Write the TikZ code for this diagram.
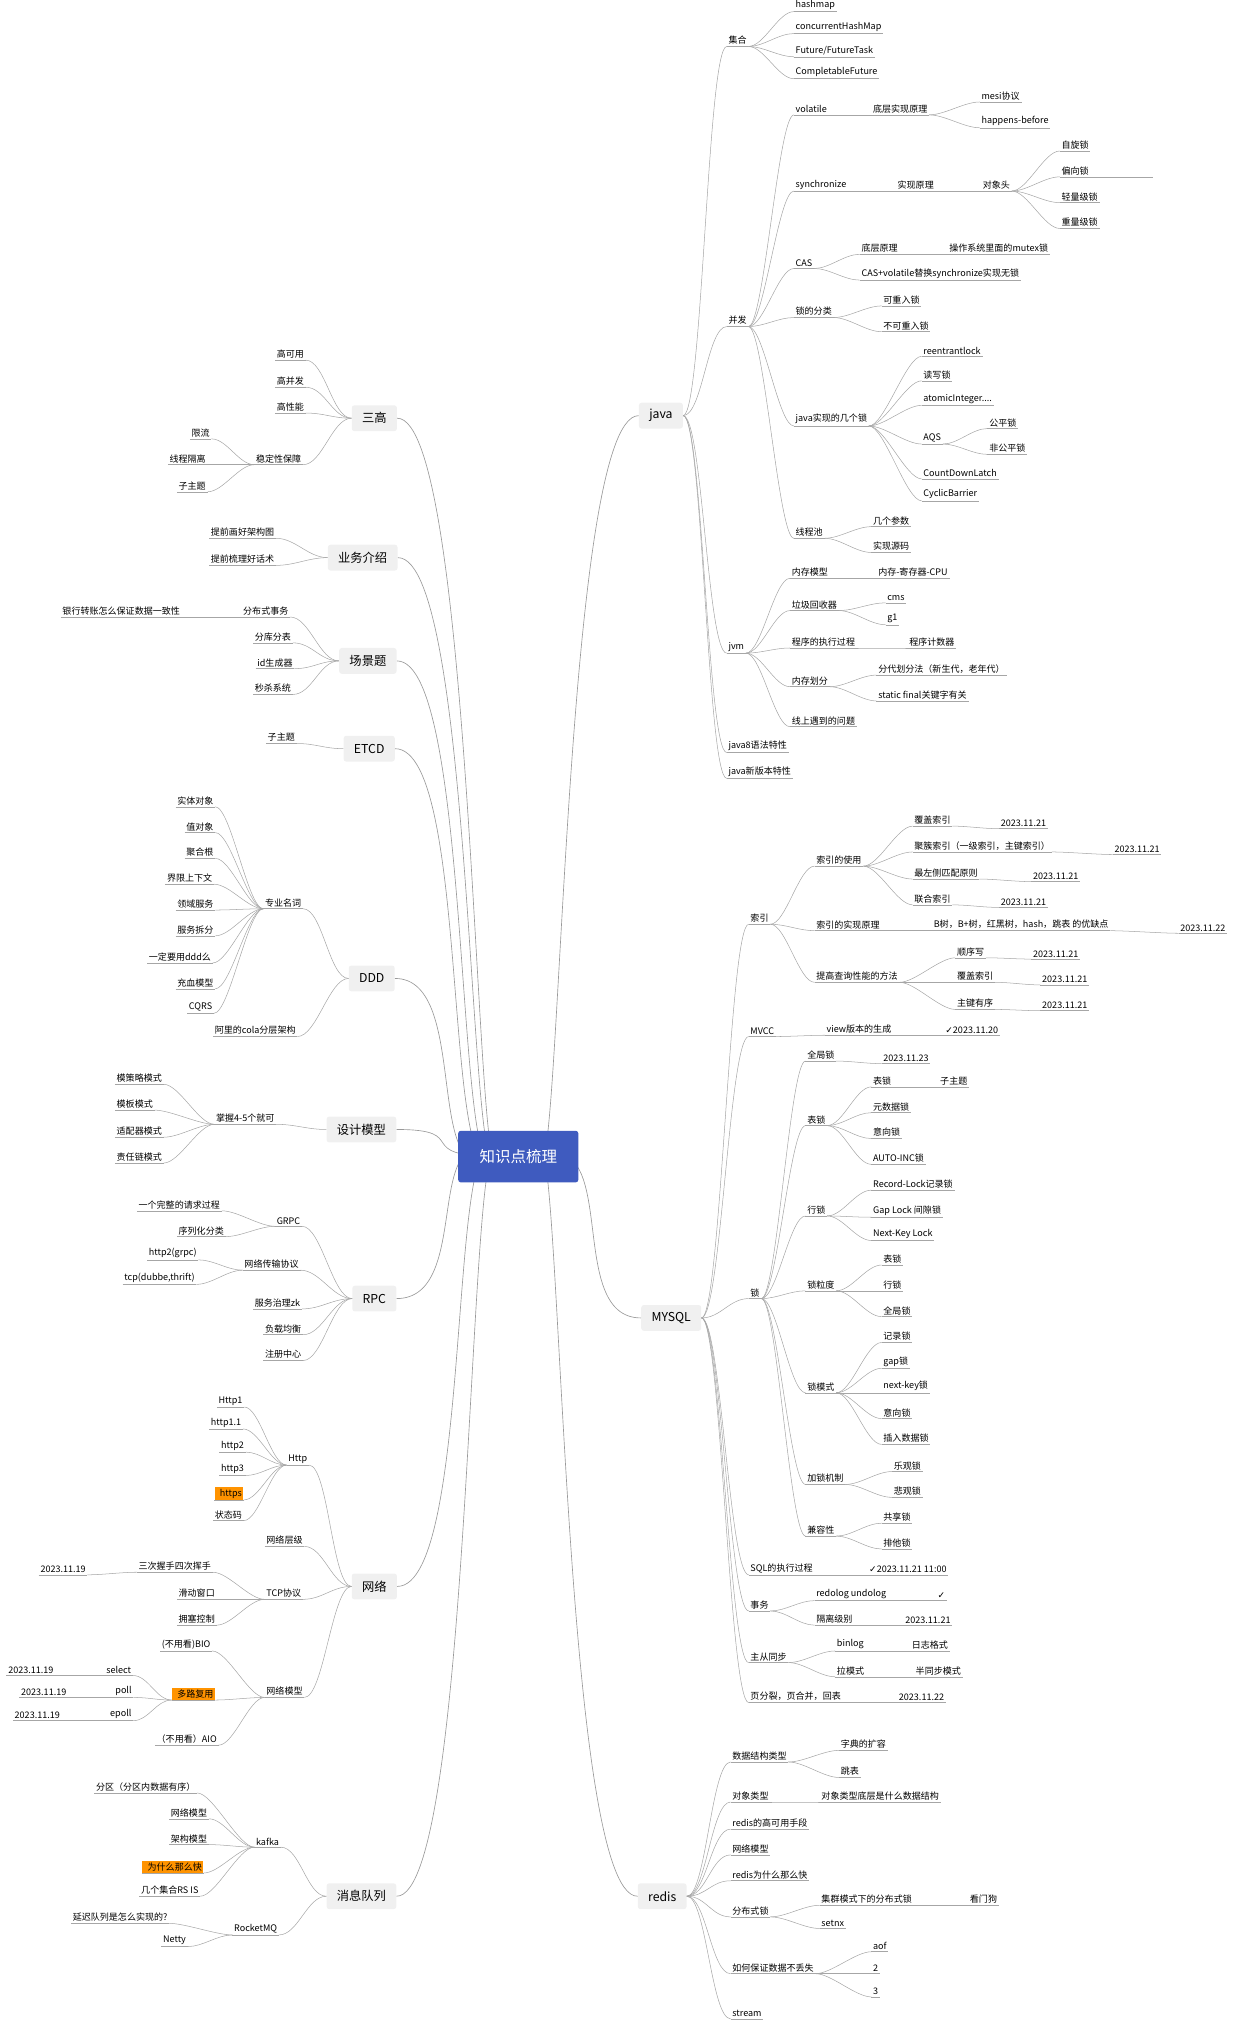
\documentclass[tikz,border=0pt]{standalone}
\usepackage{fontspec}
\setmainfont{Noto Sans CJK SC}
\newfontfamily\dv{DejaVu Sans}
\definecolor{cblue}{HTML}{3F5BBF}
\begin{document}
\begin{tikzpicture}[x=1pt,y=-1pt,
 lf/.style={anchor=south west,inner sep=1.2pt,font=\fontsize{7}{7.5}\selectfont},
 ul/.style={draw=gray!70,line width=0.4pt},
 cn/.style={draw=gray!70,line width=0.4pt},
 mn/.style={draw=gray!80,line width=0.5pt},
 bx/.style={rounded corners=2pt,fill=gray!12,draw=none,font=\fontsize{9.5}{10}\selectfont,minimum height=20pt,inner xsep=8pt},
 hl/.style={fill=orange!85!yellow}]
\useasboundingbox (0,0) rectangle (960,1568);
\newcommand\lf[5][]{\node[lf,#1] (#2) at (#3,#4) {#5}; \draw[ul] (#2.south west) -- (#2.south east);}
\newcommand\R[2]{\draw[cn] (#1.south east) .. controls +(12,0) and +(-12,0) .. (#2.south west);}
\newcommand\Lc[2]{\draw[cn] (#1.south west) .. controls +(-12,0) and +(12,0) .. (#2.south east);}
\newcommand\BR[2]{\draw[cn] (#1.east) .. controls +(15,0) and +(-15,0) .. (#2.south west);}
\newcommand\BL[2]{\draw[cn] (#1.west) .. controls +(-15,0) and +(15,0) .. (#2.south east);}
% center anchor
\coordinate (cc) at (401.5,896);
% main boxes
\node[bx] (java) at (512,322) {java};
\node[bx] (mysql) at (520,1021) {MYSQL};
\node[bx] (redis) at (513,1469) {redis};
\node[bx] (sg) at (290,324) {三高};
\node[bx] (yw) at (281,432) {业务介绍};
\node[bx] (cj) at (285,512) {场景题};
\node[bx] (etcd) at (286,580) {ETCD};
\node[bx] (ddd) at (288,758) {DDD};
\node[bx] (sj) at (280,875) {设计模型};
\node[bx] (rpc) at (290,1006) {RPC};
\node[bx] (wl) at (290,1229) {网络};
\node[bx] (mq) at (280,1469) {消息队列};
\foreach \n/\o in {java/75,mysql/-20,redis/-75}{\draw[mn] (cc) ++(15,0) .. controls +(\o:70) and +(-60,0) .. (\n.west);}
\foreach \n/\o in {sg/105,yw/110,cj/120,etcd/130,ddd/150,sj/180,rpc/210,wl/235,mq/250}{\draw[mn] (cc) ++(-15,0) .. controls +(\o:70) and +(60,0) .. (\n.east);}
\node[rounded corners=2pt,fill=cblue,text=white,font=\fontsize{12}{13}\selectfont,minimum width=93pt,minimum height=40pt] (c) at (cc) {知识点梳理};
% java
\lf{jh}{563}{36}{集合}\BR{java}{jh}
\lf{j1}{615}{9}{hashmap}\R{jh}{j1}
\lf{j2}{615}{26}{concurrentHashMap}\R{jh}{j2}
\lf{j3}{615}{44}{Future/FutureTask}\R{jh}{j3}
\lf{j4}{615}{61}{CompletableFuture}\R{jh}{j4}
\lf{bf}{563}{253}{并发}\BR{java}{bf}
\lf{vo}{615}{89}{volatile}\R{bf}{vo}
\lf{vo1}{675}{89}{底层实现原理}\R{vo}{vo1}
\lf{vo2}{759}{79}{mesi协议}\R{vo1}{vo2}
\lf{vo3}{759}{99}{happens-before}\R{vo1}{vo3}
\lf{sy}{615}{148}{synchronize}\R{bf}{sy}
\lf{sy1}{694}{148}{实现原理}\R{sy}{sy1}
\lf{sy2}{760}{148}{对象头}\R{sy1}{sy2}
\lf{sy3}{821}{117}{自旋锁}\R{sy2}{sy3}
\lf{sy4}{821}{137}{偏向锁}\R{sy2}{sy4}
\coordinate (sy4e) at (893,137);\draw[ul] (sy4.south east) -- (sy4e);
\lf{sy5}{821}{157}{轻量级锁}\R{sy2}{sy5}
\lf{sy6}{821}{177}{重量级锁}\R{sy2}{sy6}
\lf{cas}{615}{208}{CAS}\R{bf}{cas}
\lf{cas1}{666}{197}{底层原理}\R{cas}{cas1}
\lf{cas2}{734}{197}{操作系统里面的mutex锁}\R{cas1}{cas2}
\lf{cas3}{666}{217}{CAS+volatile替换synchronize实现无锁}\R{cas}{cas3}
\lf{sf}{615}{246}{锁的分类}\R{bf}{sf}
\lf{sf1}{683}{237}{可重入锁}\R{sf}{sf1}
\lf{sf2}{683}{257}{不可重入锁}\R{sf}{sf2}
\lf{js}{615}{330}{java实现的几个锁}\R{bf}{js}
\lf{js1}{714}{276}{reentrantlock}\R{js}{js1}
\lf{js2}{714}{295}{读写锁}\R{js}{js2}
\lf{js3}{714}{314}{atomicInteger....}\R{js}{js3}
\lf{js4}{714}{344}{AQS}\R{js}{js4}
\lf{js5}{765}{332}{公平锁}\R{js4}{js5}
\lf{js6}{765}{352}{非公平锁}\R{js4}{js6}
\lf{js7}{714}{371}{CountDownLatch}\R{js}{js7}
\lf{js8}{714}{388}{CyclicBarrier}\R{js}{js8}
\lf{xc}{615}{417}{线程池}\R{bf}{xc}
\lf{xc1}{675}{408}{几个参数}\R{xc}{xc1}
\lf{xc2}{675}{428}{实现源码}\R{xc}{xc2}
\lf{jvm}{563}{506}{jvm}\BR{java}{jvm}
\lf{jv1}{612}{448}{内存模型}\R{jvm}{jv1}
\lf{jv1a}{679}{448}{内存-寄存器-CPU}\R{jv1}{jv1a}
\lf{jv2}{612}{473}{垃圾回收器}\R{jvm}{jv2}
\lf{jv2a}{686}{467}{cms}\R{jv2}{jv2a}
\lf{jv2b}{686}{484}{g1}\R{jv2}{jv2b}
\lf{jv3}{612}{502}{程序的执行过程}\R{jvm}{jv3}
\lf{jv3a}{703}{502}{程序计数器}\R{jv3}{jv3a}
\lf{jv4}{612}{532}{内存划分}\R{jvm}{jv4}
\lf{jv4a}{679}{523}{分代划分法（新生代，老年代）}\R{jv4}{jv4a}
\lf{jv4b}{679}{543}{static final关键字有关}\R{jv4}{jv4b}
\lf{jv5}{612}{563}{线上遇到的问题}\R{jvm}{jv5}
\lf{j8}{563}{583}{java8语法特性}\BR{java}{j8}
\lf{jn}{563}{603}{java新版本特性}\BR{java}{jn}
% mysql
\lf{sy}{580}{716}{索引}\BR{mysql}{sy}
\lf{i1}{631}{671}{索引的使用}\R{sy}{i1}
\lf{i1a}{707}{640}{覆盖索引}\R{i1}{i1a}\lf{d1}{774}{642}{2023.11.21}\R{i1a}{d1}
\lf{i1b}{707}{660}{聚簇索引（一级索引，主键索引）}\R{i1}{i1b}\lf{d2}{862}{662}{2023.11.21}\R{i1b}{d2}
\lf{i1c}{707}{681}{最左侧匹配原则}\R{i1}{i1c}\lf{d3}{799}{683}{2023.11.21}\R{i1c}{d3}
\lf{i1d}{707}{701}{联合索引}\R{i1}{i1d}\lf{d4}{774}{703}{2023.11.21}\R{i1d}{d4}
\lf{i2}{631}{721}{索引的实现原理}\R{sy}{i2}
\lf{i2a}{722}{721}{B树，B+树，红黑树，hash，跳表 的优缺点}\R{i2}{i2a}\lf{d5}{913}{723}{2023.11.22}\R{i2a}{d5}
\lf{i3}{631}{761}{提高查询性能的方法}\R{sy}{i3}
\lf{i3a}{740}{742}{顺序写}\R{i3}{i3a}\lf{d6}{799}{743}{2023.11.21}\R{i3a}{d6}
\lf{i3b}{740}{761}{覆盖索引}\R{i3}{i3b}\lf{d7}{806}{763}{2023.11.21}\R{i3b}{d7}
\lf{i3c}{740}{782}{主键有序}\R{i3}{i3c}\lf{d8}{806}{783}{2023.11.21}\R{i3c}{d8}
\lf{mv}{580}{803}{MVCC}\BR{mysql}{mv}
\lf{mv1}{639}{802}{view版本的生成}\R{mv}{mv1}\lf{d9}{731}{802}{{\dv ✓}2023.11.20}\R{mv1}{d9}
\lf{ls}{580}{1006}{锁}\BR{mysql}{ls}
\lf{l1}{624}{822}{全局锁}\R{ls}{l1}\lf{d10}{683}{824}{2023.11.23}\R{l1}{d10}
\lf{l2}{624}{872}{表锁}\R{ls}{l2}
\lf{l2a}{675}{842}{表锁}\R{l2}{l2a}\lf{l2a1}{727}{842}{子主题}\R{l2a}{l2a1}
\lf{l2b}{675}{862}{元数据锁}\R{l2}{l2b}
\lf{l2c}{675}{882}{意向锁}\R{l2}{l2c}
\lf{l2d}{675}{902}{AUTO-INC锁}\R{l2}{l2d}
\lf{l3}{624}{942}{行锁}\R{ls}{l3}
\lf{l3a}{675}{922}{Record-Lock记录锁}\R{l3}{l3a}
\lf{l3b}{675}{943}{Gap Lock 间隙锁}\R{l3}{l3b}
\lf{l3c}{675}{961}{Next-Key Lock}\R{l3}{l3c}
\lf{l4}{624}{1000}{锁粒度}\R{ls}{l4}
\lf{l4a}{683}{980}{表锁}\R{l4}{l4a}
\lf{l4b}{683}{1000}{行锁}\R{l4}{l4b}
\lf{l4c}{683}{1020}{全局锁}\R{l4}{l4c}
\lf{l5}{624}{1079}{锁模式}\R{ls}{l5}
\lf{l5a}{683}{1040}{记录锁}\R{l5}{l5a}
\lf{l5b}{683}{1060}{gap锁}\R{l5}{l5b}
\lf{l5c}{683}{1079}{next-key锁}\R{l5}{l5c}
\lf{l5d}{683}{1099}{意向锁}\R{l5}{l5d}
\lf{l5e}{683}{1119}{插入数据锁}\R{l5}{l5e}
\lf{l6}{624}{1150}{加锁机制}\R{ls}{l6}
\lf{l6a}{691}{1140}{乐观锁}\R{l6}{l6a}
\lf{l6b}{691}{1160}{悲观锁}\R{l6}{l6b}
\lf{l7}{624}{1190}{兼容性}\R{ls}{l7}
\lf{l7a}{683}{1180}{共享锁}\R{l7}{l7a}
\lf{l7b}{683}{1200}{排他锁}\R{l7}{l7b}
\lf{sq}{580}{1220}{SQL的执行过程}\BR{mysql}{sq}\lf{d11}{672}{1220}{{\dv ✓}2023.11.21 11:00}\R{sq}{d11}
\lf{sw}{580}{1248}{事务}\BR{mysql}{sw}
\lf{sw1}{631}{1240}{redolog undolog}\R{sw}{sw1}\lf{d12}{725}{1240}{{\dv ✓}}\R{sw1}{d12}
\lf{sw2}{631}{1259}{隔离级别}\R{sw}{sw2}\lf{d13}{700}{1259}{2023.11.21}\R{sw2}{d13}
\lf{zc}{580}{1288}{主从同步}\BR{mysql}{zc}
\lf{zc1}{647}{1279}{binlog}\R{zc}{zc1}\lf{zc1a}{705}{1279}{日志格式}\R{zc1}{zc1a}
\lf{zc2}{647}{1299}{拉模式}\R{zc}{zc2}\lf{zc2a}{708}{1299}{半同步模式}\R{zc2}{zc2a}
\lf{yf}{580}{1319}{页分裂，页合并，回表}\BR{mysql}{yf}\lf{d14}{695}{1319}{2023.11.22}\R{yf}{d14}
% redis
\lf{r1}{566}{1365}{数据结构类型}\BR{redis}{r1}
\lf{r1a}{650}{1356}{字典的扩容}\R{r1}{r1a}
\lf{r1b}{650}{1377}{跳表}\R{r1}{r1b}
\lf{r2}{566}{1396}{对象类型}\BR{redis}{r2}\lf{r2a}{635}{1396}{对象类型底层是什么数据结构}\R{r2}{r2a}
\lf{r3}{566}{1417}{redis的高可用手段}\BR{redis}{r3}
\lf{r4}{566}{1437}{网络模型}\BR{redis}{r4}
\lf{r5}{566}{1457}{redis为什么那么快}\BR{redis}{r5}
\lf{r6}{566}{1485}{分布式锁}\BR{redis}{r6}
\lf{r6a}{635}{1476}{集群模式下的分布式锁}\R{r6}{r6a}\lf{r6b}{750}{1476}{看门狗}\R{r6a}{r6b}
\lf{r6c}{635}{1494}{setnx}\R{r6}{r6c}
\lf{r7}{566}{1529}{如何保证数据不丢失}\BR{redis}{r7}
\lf{r7a}{675}{1512}{aof}\R{r7}{r7a}
\lf{r7b}{675}{1529}{2}\R{r7}{r7b}
\lf{r7c}{675}{1547}{3}\R{r7}{r7c}
\lf{r8}{566}{1564}{stream}\BR{redis}{r8}
% 三高
\lf{s1}{213}{279}{高可用}\BL{sg}{s1}
\lf{s2}{213}{300}{高并发}\BL{sg}{s2}
\lf{s3}{213}{320}{高性能}\BL{sg}{s3}
\lf{s4}{197}{360}{稳定性保障}\BL{sg}{s4}
\lf{s4a}{147}{340}{限流}\Lc{s4}{s4a}
\lf{s4b}{130}{360}{线程隔离}\Lc{s4}{s4b}
\lf{s4c}{137}{381}{子主题}\Lc{s4}{s4c}
\lf{y1}{162}{417}{提前画好架构图}\BL{yw}{y1}
\lf{y2}{162}{438}{提前梳理好话术}\BL{yw}{y2}
\lf{c1}{187}{478}{分布式事务}\BL{cj}{c1}
\lf{c1a}{47}{478}{银行转账怎么保证数据一致性}\Lc{c1}{c1a}
\lf{c2}{196}{498}{分库分表}\BL{cj}{c2}
\lf{c3}{198}{518}{id生成器}\BL{cj}{c3}
\lf{c4}{196}{538}{秒杀系统}\BL{cj}{c4}
\lf{e1}{206}{576}{子主题}\BL{etcd}{e1}
% DDD
\lf{dd}{204}{704}{专业名词}\BL{ddd}{dd}
\lf{dd1}{136}{625}{实体对象}\Lc{dd}{dd1}
\lf{dd2}{143}{645}{值对象}\Lc{dd}{dd2}
\lf{dd3}{143}{665}{聚合根}\Lc{dd}{dd3}
\lf{dd4}{128}{685}{界限上下文}\Lc{dd}{dd4}
\lf{dd5}{136}{705}{领域服务}\Lc{dd}{dd5}
\lf{dd6}{136}{725}{服务拆分}\Lc{dd}{dd6}
\lf{dd7}{114}{746}{一定要用ddd么}\Lc{dd}{dd7}
\lf{dd8}{136}{766}{充血模型}\Lc{dd}{dd8}
\lf{dd9}{145}{785}{CQRS}\Lc{dd}{dd9}
\lf{dda}{165}{803}{阿里的cola分层架构}\BL{ddd}{dda}
% 设计模型
\lf{sm}{166}{871}{掌握4-5个就可}\BL{sj}{sm}
\lf{sm1}{89}{840}{模策略模式}\Lc{sm}{sm1}
\lf{sm2}{89}{860}{模板模式}\Lc{sm}{sm2}
\lf{sm3}{89}{881}{适配器模式}\Lc{sm}{sm3}
\lf{sm4}{89}{901}{责任链模式}\Lc{sm}{sm4}
% RPC
\lf{g}{213}{950}{GRPC}\BL{rpc}{g}
\lf{g1}{106}{938}{一个完整的请求过程}\Lc{g}{g1}
\lf{g2}{137}{958}{序列化分类}\Lc{g}{g2}
\lf{w}{188}{984}{网络传输协议}\BL{rpc}{w}
\lf{w1}{114}{976}{http2(grpc)}\Lc{w}{w1}
\lf{w2}{95}{995}{tcp(dubbe,thrift)}\Lc{w}{w2}
\lf{p1}{196}{1014}{服务治理zk}\BL{rpc}{p1}
\lf{p2}{204}{1034}{负载均衡}\BL{rpc}{p2}
\lf{p3}{204}{1054}{注册中心}\BL{rpc}{p3}
% 网络
\lf{h}{222}{1135}{Http}\BL{wl}{h}
\lf{h1}{168}{1090}{Http1}\Lc{h}{h1}
\lf{h2}{162}{1107}{http1.1}\Lc{h}{h2}
\lf{h3}{170}{1125}{http2}\Lc{h}{h3}
\lf{h4}{170}{1143}{http3}\Lc{h}{h4}
\lf[hl]{h5}{166}{1162}{\hspace{3pt}https\hspace{3pt}}\Lc{h}{h5}
\lf{h6}{165}{1178}{状态码}\Lc{h}{h6}
\lf{n1}{205}{1198}{网络层级}\BL{wl}{n1}
\lf{t}{205}{1239}{TCP协议}\BL{wl}{t}
\lf{t1}{106}{1218}{三次握手四次挥手}\Lc{t}{t1}\lf{t1d}{30}{1220}{2023.11.19}\Lc{t1}{t1d}
\lf{t2}{137}{1239}{滑动窗口}\Lc{t}{t2}
\lf{t3}{137}{1259}{拥塞控制}\Lc{t}{t3}
\lf{m}{205}{1315}{网络模型}\BL{wl}{m}
\lf{m1}{124}{1279}{(不用看)BIO}\Lc{m}{m1}
\lf[hl]{m2}{133}{1317}{\hspace{3pt}多路复用\hspace{3pt}}\Lc{m}{m2}
\lf{m2a}{81}{1298}{select}\Lc{m2}{m2a}\lf{m2ad}{5}{1298}{2023.11.19}\Lc{m2a}{m2ad}
\lf{m2b}{88}{1315}{poll}\Lc{m2}{m2b}\lf{m2bd}{15}{1315}{2023.11.19}\Lc{m2b}{m2bd}
\lf{m2c}{84}{1333}{epoll}\Lc{m2}{m2c}\lf{m2cd}{10}{1333}{2023.11.19}\Lc{m2c}{m2cd}
\lf{m3}{120}{1352}{（不用看）AIO}\Lc{m}{m3}
% 消息队列
\lf{k}{197}{1431}{kafka}\BL{mq}{k}
\lf{k1}{73}{1389}{分区（分区内数据有序）}\Lc{k}{k1}
\lf{k2}{131}{1409}{网络模型}\Lc{k}{k2}
\lf{k3}{131}{1429}{架构模型}\Lc{k}{k3}
\lf[hl]{k4}{110}{1451}{\hspace{3pt}为什么那么快\hspace{3pt}}\Lc{k}{k4}
\lf{k5}{108}{1469}{几个集合RS IS}\Lc{k}{k5}
\lf{rm}{180}{1499}{RocketMQ}\BL{mq}{rm}
\lf{rm1}{55}{1490}{延迟队列是怎么实现的?}\Lc{rm}{rm1}
\lf{rm2}{125}{1508}{Netty}\Lc{rm}{rm2}
\end{tikzpicture}
\end{document}
